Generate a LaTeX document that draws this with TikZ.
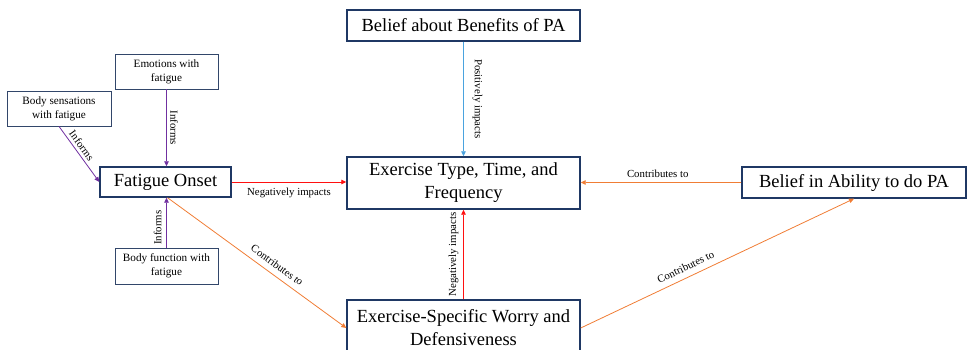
\documentclass[tikz,border=0pt]{standalone}
\usepackage{fontspec}
\setmainfont{Liberation Serif}
\usetikzlibrary{arrows.meta}
\definecolor{boxc}{HTML}{1F3864}
\definecolor{purp}{HTML}{7030A0}
\definecolor{redc}{HTML}{FF1010}
\definecolor{orac}{HTML}{F07D35}
\definecolor{bluc}{HTML}{4AA3DF}
\tikzset{
  bigbox/.style={draw=boxc, line width=1.4pt, align=center, inner sep=0pt,
    font=\fontsize{18.5}{23}\selectfont},
  smallbox/.style={draw=boxc!80!gray, line width=0.8pt, align=center, inner sep=0pt,
    font=\fontsize{11.2}{14}\selectfont},
  lbl/.style={font=\fontsize{10.8}{12}\selectfont, inner sep=2pt, text=black},
  conn/.style={line width=0.8pt, -{Triangle[length=5pt,width=4.5pt]}}
}
\begin{document}
\begin{tikzpicture}[x=1pt,y=-1pt]
\useasboundingbox (0,0) rectangle (967,350);
% big boxes
\node[bigbox, minimum width=233pt, minimum height=31pt] (ben) at (463.5,25.5) {Belief about Benefits of PA};
\node[bigbox, minimum width=233pt, minimum height=52pt] (ex) at (463.5,183) {Exercise Type, Time, and\\Frequency};
\node[bigbox, minimum width=233pt, minimum height=56pt] (worry) at (463.5,328) {Exercise-Specific Worry and\\Defensiveness};
\node[bigbox, minimum width=224pt, minimum height=31pt] (abil) at (854,182.5) {Belief in Ability to do PA};
\node[bigbox, minimum width=131pt, minimum height=30pt] (fat) at (165.5,182) {Fatigue Onset};
% small boxes
\node[smallbox, minimum width=103pt, minimum height=35pt] (emo) at (166.5,71.5) {Emotions with\\fatigue};
\node[smallbox, minimum width=104pt, minimum height=35pt] (sens) at (59,108.5) {Body sensations\\with fatigue};
\node[smallbox, minimum width=103pt, minimum height=36pt] (func) at (166.5,266) {Body function with\\fatigue};
% connectors
\draw[conn, purp] (emo.south) -- node[lbl, midway, xshift=7.5pt, rotate=-90] {Informs} (emo.south |- fat.north);
\draw[conn, purp] (func.north) -- node[lbl, pos=0.4, xshift=-9pt, rotate=90] {Informs} (func.north |- fat.south);
\draw[conn, purp] (sens.south) -- node[lbl, pos=0.42, sloped, above=1pt] {Informs} (fat.west);
\draw[conn, redc] (fat.east) -- node[lbl, midway, yshift=-11pt] {Negatively impacts} (ex.west |- fat.east);
\draw[conn, orac] ([xshift=2pt]fat.south) -- node[lbl, pos=0.58, sloped, above=4pt] {Contributes to} (worry.west);
\draw[conn, bluc] (ben.south) -- node[lbl, midway, xshift=14pt, rotate=-90] {Positively impacts} (ex.north);
\draw[conn, redc] (worry.north) -- node[lbl, midway, xshift=-10pt, rotate=90] {Negatively impacts} (ex.south);
\draw[conn, orac] (abil.west) -- node[lbl, pos=0.52, yshift=9pt] {Contributes to} (abil.west -| ex.east);
\draw[conn, orac] (worry.east) -- node[lbl, pos=0.4, sloped, above=4pt] {Contributes to} (abil.south);
\end{tikzpicture}
\end{document}
